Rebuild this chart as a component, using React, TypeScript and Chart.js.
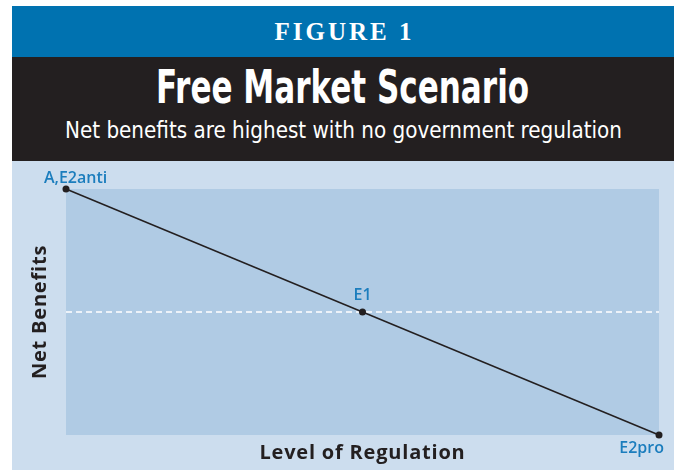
import React, { useEffect, useMemo, useRef } from "react";
import { Chart, registerables } from "chart.js";

Chart.register(...registerables);

// ---- data ----
const regulationLevels = [0, 0.5, 1];
const netBenefits = [1, 0.5, 0];
const pointLabels = ["A,E2anti", "E1", "E2pro"];
const e1Level = [0.5, 0.5];
const e1Span = [0, 1];
const figureLabel = "FIGURE 1";
const titleText = "Free Market Scenario";
const subtitleText = "Net benefits are highest with no government regulation";
const xAxisTitle = "Level of Regulation";
const yAxisTitle = "Net Benefits";

// ---- styles ----
const BLUE = "#0072b0";
const DARK = "#231f20";
const PANEL = "#ccddee";
const PLOT = "#b0cbe4";
const LABEL_BLUE = "#1b7dbd";

const TITLE_FONT = "bold 46px 'Liberation Sans Narrow', 'DejaVu Sans Condensed', 'Liberation Sans', sans-serif";
const SUB_FONT = "23px 'Liberation Sans Narrow', 'DejaVu Sans Condensed', 'Liberation Sans', sans-serif";

function fitScale(text: string, font: string, target: number) {
  const ctx = document.createElement("canvas").getContext("2d");
  if (!ctx) return 1;
  ctx.font = font;
  const w = ctx.measureText(text).width;
  return w > 0 ? target / w : 1;
}

const decorPlugin = {
  id: "decor",
  beforeDatasetsDraw(chart: any) {
    const { ctx, chartArea } = chart;
    ctx.save();
    ctx.fillStyle = PLOT;
    ctx.fillRect(chartArea.left, chartArea.top, chartArea.right - chartArea.left, chartArea.bottom - chartArea.top);
    ctx.restore();
  },
  afterDraw(chart: any) {
    const { ctx, chartArea } = chart;
    const meta = chart.getDatasetMeta(0);
    ctx.save();
    // point labels
    ctx.fillStyle = LABEL_BLUE;
    ctx.font = "600 16px 'Open Sans', sans-serif";
    ctx.textBaseline = "alphabetic";
    meta.data.forEach((pt: any, i: number) => {
      const label = pointLabels[i];
      if (i === 0) {
        ctx.textAlign = "left";
        ctx.fillText(label, pt.x - 22, pt.y - 6);
      } else if (i === meta.data.length - 1) {
        ctx.textAlign = "right";
        ctx.fillText(label, pt.x + 5, pt.y + 18);
      } else {
        ctx.textAlign = "center";
        ctx.fillText(label, pt.x, pt.y - 12);
      }
    });
    // axis titles
    ctx.fillStyle = DARK;
    ctx.font = "bold 20px 'Open Sans', sans-serif";
    (ctx as any).letterSpacing = "0.8px";
    ctx.textAlign = "center";
    ctx.fillText(xAxisTitle, (chartArea.left + chartArea.right) / 2, chartArea.bottom + 24);
    ctx.translate(chartArea.left - 20, (chartArea.top + chartArea.bottom) / 2);
    ctx.rotate(-Math.PI / 2);
    ctx.fillText(yAxisTitle, 0, 0);
    ctx.restore();
  },
};

function FreeMarketChart() {
  const ref = useRef<HTMLCanvasElement | null>(null);
  useEffect(() => {
    if (!ref.current) return;
    const chart = new Chart(ref.current, {
      type: "line",
      data: {
        datasets: [
          {
            data: regulationLevels.map((x, i) => ({ x, y: netBenefits[i] })),
            borderColor: DARK,
            borderWidth: 1.5,
            pointRadius: 3.5,
            pointBackgroundColor: DARK,
            pointBorderColor: DARK,
            pointBorderWidth: 0,
            clip: false as any,
          },
          {
            data: e1Span.map((x, i) => ({ x, y: e1Level[i] })),
            borderColor: "#ffffff",
            borderWidth: 1.5,
            borderDash: [6, 4],
            pointRadius: 0,
          },
        ],
      },
      options: {
        animation: false,
        responsive: false,
        layout: { padding: { left: 54, right: 15, top: 28, bottom: 35 } },
        plugins: { legend: { display: false }, tooltip: { enabled: false } },
        scales: {
          x: { type: "linear", min: 0, max: 1, display: false },
          y: { type: "linear", min: 0, max: 1, display: false },
        },
      },
      plugins: [decorPlugin],
    });
    return () => chart.destroy();
  }, []);
  return <canvas ref={ref} width={662} height={309} style={{ display: "block" }} />;
}

export default function App() {
  const titleScale = useMemo(() => fitScale(titleText, TITLE_FONT, 373), []);
  const subScale = useMemo(() => fitScale(subtitleText, SUB_FONT, 557), []);
  return (
    <div style={{ position: "fixed", left: 0, top: 0, width: 674, height: 470, background: "#ffffff", overflow: "hidden" }}>
      <div style={{ position: "absolute", left: 12, top: 6, width: 662, height: 51, background: BLUE }} />
      <div style={{ position: "absolute", left: 12, top: 57, width: 662, height: 104, background: DARK }} />
      <div
        style={{
          position: "absolute", left: 12, top: 19, width: 662, textAlign: "center", color: "#ffffff",
          font: "bold 25px 'Liberation Serif', serif", lineHeight: "25px", letterSpacing: "3px", paddingLeft: 3,
          boxSizing: "border-box", whiteSpace: "nowrap",
        }}
      >
        {figureLabel}
      </div>
      <div style={{ position: "absolute", left: 12, top: 64, width: 662, textAlign: "center", whiteSpace: "nowrap" }}>
        <span style={{ display: "inline-block", color: "#ffffff", font: TITLE_FONT, lineHeight: "46px", transform: `scaleX(${titleScale})`, transformOrigin: "center" }}>
          {titleText}
        </span>
      </div>
      <div style={{ position: "absolute", left: 12, top: 118.5, width: 662, textAlign: "center", whiteSpace: "nowrap" }}>
        <span style={{ display: "inline-block", color: "#ffffff", font: SUB_FONT, lineHeight: "23px", transform: `scaleX(${subScale})`, transformOrigin: "center" }}>
          {subtitleText}
        </span>
      </div>
      <div style={{ position: "absolute", left: 12, top: 161, width: 662, height: 309, background: PANEL }}>
        <FreeMarketChart />
      </div>
    </div>
  );
}
